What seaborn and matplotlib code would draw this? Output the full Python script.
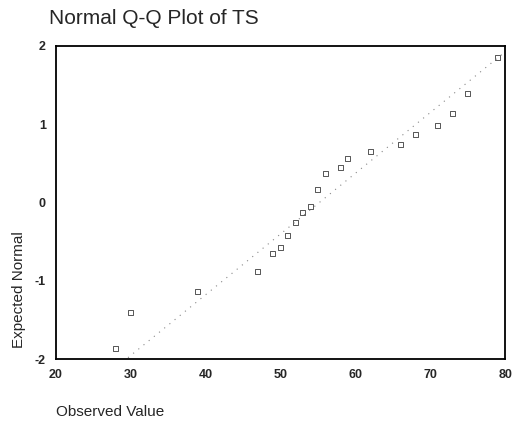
import matplotlib.pyplot as plt
import numpy as np
import pandas as pd
import seaborn as sns

# values
observed = [28, 30, 39, 47, 49, 50, 51, 52, 53, 54, 55, 56,
            58, 59, 62, 66, 68, 71, 73, 75, 79]
expected = [-1.86, -1.40, -1.14, -0.88, -0.65, -0.57, -0.42, -0.26, -0.13, -0.05,
            0.16, 0.37, 0.45, 0.56, 0.65, 0.74, 0.87, 0.98, 1.13, 1.39, 1.85]

# reference line: (x - mean) / sd
line_mean = 55.2
line_sd = 12.9
line_x = [20, 80]

x_ticks = [20, 30, 40, 50, 60, 70, 80]
y_ticks = [-2, -1, 0, 1, 2]

df = pd.DataFrame({"Observed Value": observed, "Expected Normal": expected})
line_df = pd.DataFrame({"x": line_x})
line_df["y"] = (line_df["x"] - line_mean) / line_sd

sns.set_style("white")
plt.rcParams["font.family"] = ["Liberation Sans", "DejaVu Sans"]
plt.rcParams["axes.unicode_minus"] = False

fig = plt.figure(figsize=(5.14, 4.23), dpi=100)
ax = fig.add_axes([0.108, 0.1506, 0.875, 0.7414])

sns.lineplot(data=line_df, x="x", y="y", ax=ax, color="#888888",
             linestyle=(0, (1, 5)), linewidth=0.8)
sns.scatterplot(data=df, x="Observed Value", y="Expected Normal", ax=ax,
                marker="s", s=13, facecolor="none", edgecolor="#555555",
                linewidth=0.7)

ax.set_xlim(20, 80)
ax.set_ylim(-2, 2)
ax.set_xticks(x_ticks)
ax.set_yticks(y_ticks)
ax.tick_params(direction="out", length=3, width=1.5, color="black",
               labelsize=9, pad=4)
for lab in ax.get_xticklabels() + ax.get_yticklabels():
    lab.set_fontweight("bold")

for side in ["left", "bottom", "top", "right"]:
    ax.spines[side].set_color("black")
    ax.spines[side].set_linewidth(1.3)

ax.set_xlabel("Observed Value", fontsize=11, ha="left")
ax.xaxis.set_label_coords(0.0, -0.147)
ax.set_ylabel("Expected Normal", fontsize=11)
ax.yaxis.set_label_coords(-0.066, 0.221)

fig.text(0.095, 0.957, "Normal Q-Q Plot of TS", fontsize=15, ha="left", va="center")

plt.savefig("out.png", dpi=100)
plt.close()
